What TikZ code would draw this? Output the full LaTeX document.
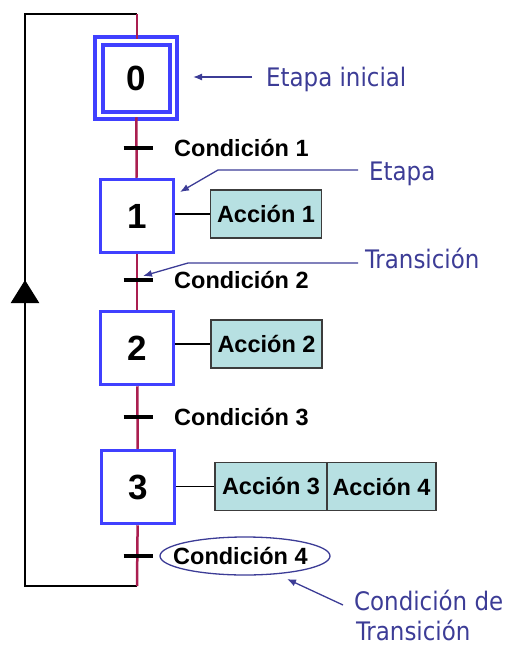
\documentclass[tikz,border=0pt]{standalone}
\usepackage{fontspec}
\setmainfont{Liberation Sans}
\newfontfamily\notefont{DejaVu Sans Condensed}
\usetikzlibrary{arrows.meta,shapes.geometric}

\definecolor{flowred}{RGB}{170,30,80}
\definecolor{stepblue}{RGB}{64,64,255}
\definecolor{actfill}{RGB}{183,224,226}
\definecolor{actedge}{RGB}{60,60,60}
\definecolor{noteblue}{RGB}{60,60,150}

\begin{document}
\begin{tikzpicture}[x=1pt,y=-1pt,
  stepbox/.style={draw=stepblue, line width=3.5pt, fill=white, minimum size=73pt,
    inner sep=0pt, font=\fontsize{35}{35}\selectfont\bfseries},
  initbox/.style={stepbox, line width=4pt, double=white, double distance=3.5pt,
    minimum size=74.5pt},
  action/.style={draw=actedge, line width=1.3pt, fill=actfill, minimum height=48pt,
    inner sep=0pt, font=\fontsize{23.5}{27}\selectfont\bfseries},
  cond/.style={anchor=base west, inner sep=0pt, font=\fontsize{23.5}{27}\selectfont\bfseries},
  tick/.style={draw=black, line width=4pt},
  flow/.style={draw=flowred, line width=2.5pt},
  back/.style={draw=black, line width=2.5pt},
  link/.style={draw=black, line width=1.3pt},
  note/.style={anchor=base west, inner sep=0pt, text=noteblue,
    font=\notefont\fontsize{25.5}{34}\selectfont},
  pointer/.style={draw=noteblue, line width=1.3pt, -{Latex[length=9pt,width=7pt]}},
  ring/.style={ellipse, draw=noteblue, line width=1.3pt, inner sep=0pt},
]
\useasboundingbox (0,0) rectangle (514,648);

% steps
\node[initbox] (s0) at (136,78) {0};
\node[stepbox] (s1) at (137,216) {1};
\node[stepbox] (s2) at (137,348) {2};
\node[stepbox] (s3) at (138,487) {3};

% ends of the main flow line and of the return loop
\coordinate (top) at (137,14);
\coordinate (bot) at (137,586);
\coordinate (lt) at (25,14);
\coordinate (lb) at (25,586);
\coordinate (up) at (25,280);

% return loop with its arrow
\draw[back] (bot) -- (lb) -- (lt) -- (top);
\draw[back, -{Triangle[length=23pt,width=28pt]}] (lb) -- (up);

% main flow line
\draw[flow] (top) -- (top |- s0.north);
\draw[flow] (s0) -- (s1);
\draw[flow] (s1) -- (s2);
\draw[flow] (s2) -- (s3);
\draw[flow] (s3) -- (bot);

% transitions
\coordinate (t1) at (138,148);
\coordinate (t2) at (138,280);
\coordinate (t3) at (138,417);
\coordinate (t4) at (138,556);
\foreach \t in {t1,t2,t3,t4}
  \draw[tick] (\t) +(-14.5,0) -- +(14.5,0);

% transition conditions
\node[cond] (c1) at (174,156) {Condición 1};
\node[cond] (c2) at (174,288) {Condición 2};
\node[cond] (c3) at (174,425) {Condición 3};
\node[ring, minimum width=170pt, minimum height=38pt] (e4) at (245,556) {};
\node[cond] (c4) at (173,564) {Condición 4};

% actions
\node[action, minimum width=111pt] (a1) at (266,214) {Acción 1};
\node[action, minimum width=111pt] (a2) at (266.5,344) {Acción 2};
\node[action, minimum width=112pt] (a3) at (271,486.5) {Acción 3};
\node[action, minimum width=109pt] (a4) at (381.5,486.5) {Acción 4};
\draw[link] (a1.west -| s1.east) -- (a1.west);
\draw[link] (a2.west -| s2.east) -- (a2.west);
\draw[link] (a3.west -| s3.east) -- (a3.west);

% annotations
\node[note] (n0) at (266,86) {Etapa inicial};
\node[note] (n1) at (369,180) {Etapa};
\node[note] (n2) at (365,268) {Transición};
\node[note] (n3) at (354,610) {Condición de};
\node[note] (n4) at (356,640) {Transición};

\coordinate (p0) at (193,77);
\coordinate (p1) at (180,192);
\coordinate (p2) at (143,276);
\coordinate (p3) at (287,579);

\draw[pointer] (252,77) -- (p0);
\draw[pointer] (358,170) -- (218,170) -- (p1);
\draw[pointer] (358,263) -- (188,263) -- (p2);
\draw[pointer] (343,605) -- (p3);
\end{tikzpicture}
\end{document}
